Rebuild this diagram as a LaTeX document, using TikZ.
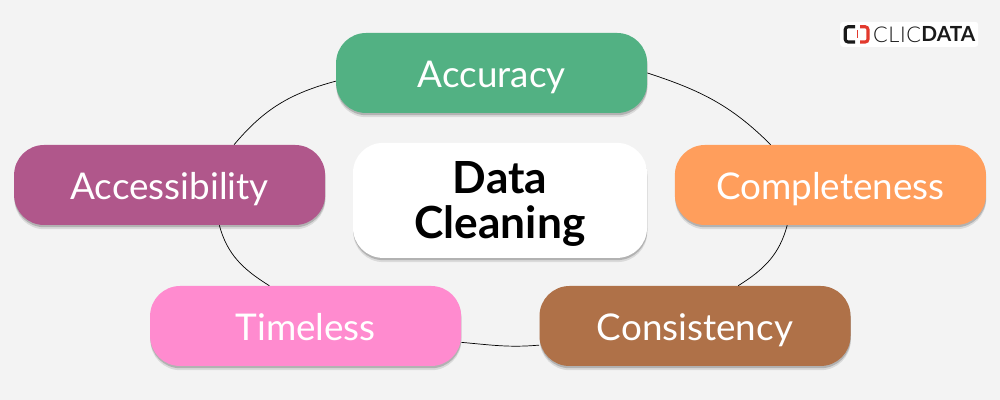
\documentclass[tikz,border=0pt]{standalone}
\usepackage{fontspec}
\setmainfont{Lato}
\newfontfamily\lightfont[LetterSpace=3]{Lato Light}
\usepackage{xcolor}
\usetikzlibrary{positioning, shadows}
\definecolor{pagegray}{HTML}{F3F3F3}
\definecolor{accuracygreen}{HTML}{52B183}
\definecolor{accesspurple}{HTML}{B0578B}
\definecolor{completeorange}{HTML}{FF9E5C}
\definecolor{timelesspink}{HTML}{FF8BCF}
\definecolor{consistbrown}{HTML}{AF7148}
\definecolor{logored}{HTML}{E2392D}
\definecolor{logoblack}{HTML}{1A1A1A}
\tikzset{
    softshadow/.style={
        drop shadow={shadow xshift=0.2pt, shadow yshift=-3pt, opacity=0.1, fill=black},
        drop shadow={shadow xshift=0.2pt, shadow yshift=-1.6pt, opacity=0.18, fill=black}},
    pill/.style={rectangle, rounded corners=0.75cm, minimum width=7.775cm, minimum height=2cm, inner sep=0pt,
        text=white, text height=20pt, text depth=0pt, font=\fontsize{26.2}{32}\selectfont, softshadow},
    link/.style={draw=black, line width=0.5pt},
}
\begin{document}
\begin{tikzpicture}
    \useasboundingbox[fill=pagegray] (0,0) rectangle (25,10);
    \node[pill, fill=accuracygreen] (accuracy) at (12.29,8.175) {Accuracy};
    \node[pill, fill=accesspurple] (accessibility) at (4.24,5.375) {Accessibility};
    \node[pill, fill=completeorange] (completeness) at (20.76,5.375) {Completeness};
    \node[pill, fill=timelesspink] (timeless) at (7.64,1.85) {Timeless};
    \node[pill, fill=consistbrown] (consistency) at (17.375,1.85) {Consistency};
    \node[pill, fill=white, minimum width=7.35cm, minimum height=2.875cm] (cleaning) at (12.5,4.99) {};
    \node[text=black, align=center, inner sep=0pt, font=\bfseries\fontsize{31.5}{31.5}\selectfont] (cleaningtext) at ([yshift=-2.6pt]cleaning.center) {Data\\Cleaning};
    % the ring, piece by piece
    \draw[link] (accuracy.east) to[out=-18, in=135] (completeness.146);
    \draw[link] (completeness.223) to[out=-105, in=32] (consistency.43);
    \draw[link] (consistency.187.4) to[out=185, in=-5] (timeless.-6.8);
    \draw[link] (timeless.132) to[out=148, in=-75] (accessibility.-39);
    \draw[link] (accessibility.32) to[out=50, in=195] (accuracy.183);
    % logo
    \node[fill=white, rounded corners=2pt, minimum width=3.45cm, minimum height=0.625cm, inner sep=0pt] (logo) at (22.73,9.14) {};
    \node[anchor=west, inner sep=0pt, text=logoblack, font=\lightfont\fontsize{15.5}{18}\selectfont] (clic) at (21.82,9.14) {CLIC};
    \node[anchor=west, inner sep=0pt, text=logoblack, font=\bfseries\fontsize{14.8}{18}\selectfont] (dataword) at (23.03,9.14) {DATA};
    \draw[logoblack, line width=2.2pt, rounded corners=2pt] (21.38,9.33) -- (21.13,9.33) -- (21.13,8.95) -- (21.38,8.95);
    \draw[logored, line width=2.2pt, rounded corners=2pt] (21.5,9.33) -- (21.7,9.33) -- (21.7,8.95) -- (21.5,8.95);
    \draw[logored, line width=1pt] (21.44,9.24) -- (21.44,9.04);
\end{tikzpicture}
\end{document}
